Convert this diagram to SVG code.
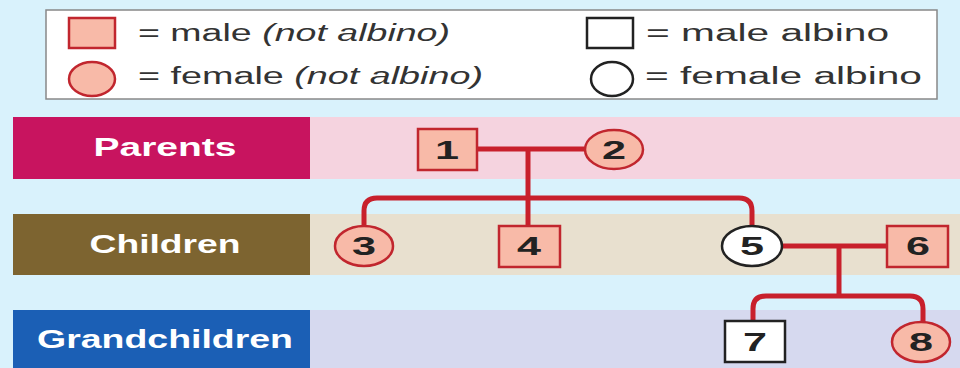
<svg xmlns="http://www.w3.org/2000/svg" width="960" height="368" viewBox="0 0 960 368">
<style>
.lg{font-family:"Liberation Sans",Arial,sans-serif;font-size:23px;fill:#333}
.lbl{font-family:"Liberation Sans",Arial,sans-serif;font-size:26px;font-weight:bold;fill:#fff}
.num{font-family:"Liberation Sans",Arial,sans-serif;font-size:26px;font-weight:bold;fill:#222}
.m{fill:#f8baa8;stroke:#c1262e;stroke-width:2.5}
.a{fill:#fff;stroke:#222;stroke-width:2.5}
.ln{fill:none;stroke:#c8202c;stroke-width:5;stroke-linejoin:round}
</style>
<rect width="960" height="368" fill="#d9f2fc"/>
<g id="legend">
<rect x="46" y="10" width="891" height="89" fill="#fff" stroke="#888" stroke-width="1.5"/>
<rect class="m" x="69" y="18" width="46" height="30"/>
<text class="lg" x="138" y="41" textLength="312" lengthAdjust="spacingAndGlyphs">= male <tspan font-style="italic">(not albino)</tspan></text>
<ellipse class="m" cx="92" cy="79" rx="23" ry="17"/>
<text class="lg" x="138" y="84" textLength="345" lengthAdjust="spacingAndGlyphs">= female <tspan font-style="italic">(not albino)</tspan></text>
<rect class="a" x="587" y="18" width="46" height="30"/>
<text class="lg" x="646" y="41" textLength="243" lengthAdjust="spacingAndGlyphs">= male albino</text>
<ellipse class="a" cx="612" cy="79" rx="21" ry="17"/>
<text class="lg" x="645" y="84" textLength="277" lengthAdjust="spacingAndGlyphs">= female albino</text>
</g>
<g id="lane-parents">
<rect x="310" y="117" width="650" height="62" fill="#f5d3df"/>
<rect x="13" y="117" width="297" height="62" fill="#c8145f"/>
<text class="lbl" x="165" y="156" text-anchor="middle" textLength="143" lengthAdjust="spacingAndGlyphs">Parents</text>
</g>
<g id="lane-children">
<rect x="310" y="214" width="650" height="61" fill="#e8e0cf"/>
<rect x="13" y="214" width="297" height="61" fill="#7d6430"/>
<text class="lbl" x="165" y="253" text-anchor="middle" textLength="151" lengthAdjust="spacingAndGlyphs">Children</text>
</g>
<g id="lane-grandchildren">
<rect x="310" y="310" width="650" height="58" fill="#d6d9ef"/>
<rect x="13" y="310" width="297" height="58" fill="#1b5fb5"/>
<text class="lbl" x="165" y="348" text-anchor="middle" textLength="256" lengthAdjust="spacingAndGlyphs">Grandchildren</text>
</g>
<g id="connectors">
<path class="ln" d="M477 149 H586"/>
<path class="ln" d="M528 149 V226"/>
<path class="ln" d="M364 227 V211 Q364 198 377 198 H739 Q752 198 752 211 V227"/>
<path class="ln" d="M782 246 H887"/>
<path class="ln" d="M839 246 V296"/>
<path class="ln" d="M753 322 V309 Q753 296 766 296 H910 Q923 296 923 309 V323"/>
</g>
<g id="n1"><rect class="m" x="418" y="129" width="59" height="41"/><text class="num" x="447" y="159" text-anchor="middle" textLength="24" lengthAdjust="spacingAndGlyphs">1</text></g>
<g id="n2"><ellipse class="m" cx="614" cy="149.5" rx="29" ry="19.5"/><text class="num" x="614" y="159" text-anchor="middle" textLength="24" lengthAdjust="spacingAndGlyphs">2</text></g>
<g id="n3"><ellipse class="m" cx="364" cy="246" rx="29" ry="20"/><text class="num" x="364" y="255" text-anchor="middle" textLength="24" lengthAdjust="spacingAndGlyphs">3</text></g>
<g id="n4"><rect class="m" x="499" y="226" width="61" height="41"/><text class="num" x="529" y="255" text-anchor="middle" textLength="24" lengthAdjust="spacingAndGlyphs">4</text></g>
<g id="n5"><ellipse class="a" cx="752" cy="246" rx="30" ry="20"/><text class="num" x="752" y="255" text-anchor="middle" textLength="24" lengthAdjust="spacingAndGlyphs">5</text></g>
<g id="n6"><rect class="m" x="887" y="226" width="61" height="41"/><text class="num" x="918" y="255" text-anchor="middle" textLength="24" lengthAdjust="spacingAndGlyphs">6</text></g>
<g id="n7"><rect class="a" x="725" y="321" width="60" height="41"/><text class="num" x="755" y="351" text-anchor="middle" textLength="24" lengthAdjust="spacingAndGlyphs">7</text></g>
<g id="n8"><ellipse class="m" cx="921" cy="342" rx="29" ry="20"/><text class="num" x="921" y="351" text-anchor="middle" textLength="24" lengthAdjust="spacingAndGlyphs">8</text></g>
</svg>
